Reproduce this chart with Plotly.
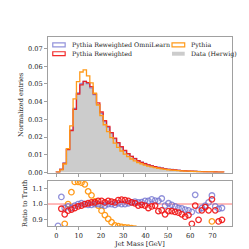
import numpy as np
import plotly.graph_objects as go

# ---------------- data ----------------
bin_edges = [i * 1.5 for i in range(51)]  # 0 .. 75 GeV, 50 bins

data_herwig = [
    0.0003, 0.0018, 0.0055, 0.0135, 0.0245, 0.0365, 0.0450, 0.0500, 0.0515, 0.0505,
    0.0480, 0.0440, 0.0385, 0.0335, 0.0290, 0.0255, 0.0222, 0.0192, 0.0165, 0.0142,
    0.0122, 0.0105, 0.0090, 0.0078, 0.0067, 0.0058, 0.0050, 0.0044, 0.0038, 0.0033,
    0.0029, 0.0025, 0.0022, 0.0019, 0.0017, 0.0015, 0.0013, 0.0011, 0.0010, 0.0009,
    0.0008, 0.0007, 0.0006, 0.0005, 0.00045, 0.0004, 0.00035, 0.0003, 0.00025, 0.0002,
]

ratio_omnilearn = [
    0.862, 1.045, 0.975, 0.985, 0.975, 0.990, 1.000, 1.005, 1.000, 0.995,
    0.995, 1.000, 1.000, 0.995, 0.990, 1.000, 1.000, 0.995, 1.005, 1.000,
    1.000, 1.005, 1.010, 1.015, 1.010, 1.012, 1.020, 1.020, 1.030, 1.022,
    1.020, 1.035, 0.990, 1.005, 0.995, 0.985, 0.975, 0.972, 0.965, 0.960,
    0.950, 1.058, 0.960, 0.975, 0.990, 1.010, 1.054, 0.985, 0.970, 0.975,
]

ratio_reweighted = [
    0.800, 0.970, 0.935, 0.958, 0.965, 0.975, 0.985, 0.990, 1.000, 1.005,
    1.010, 1.010, 1.020, 1.020, 1.010, 1.020, 1.015, 1.010, 1.025, 1.028,
    1.025, 1.020, 1.010, 1.005, 0.990, 0.995, 0.990, 0.975, 0.985, 0.990,
    0.955, 0.960, 0.935, 0.955, 0.955, 0.950, 0.945, 0.935, 0.920, 0.930,
    0.875, 0.990, 0.900, 0.960, 0.980, 0.960, 1.030, 0.960, 0.890, 0.900,
]

ratio_pythia = [
    0.700, 0.800, 0.875, 1.000, 1.075, 1.140, 1.140, 1.135, 1.125, 1.080,
    1.055, 1.017, 0.990, 0.958, 0.930, 0.906, 0.885, 0.865, 0.860, 0.855,
    0.852, 0.850, 0.848, 0.845, 0.840, 0.835, 0.830, 0.830, 0.828, 0.825,
    0.825, 0.822, 0.820, 0.820, 0.818, 0.815, 0.815, 0.812, 0.810, 0.810,
    0.808, 0.805, 0.805, 0.803, 0.802, 0.800, 0.890, 0.800, 0.800, 0.800,
]

x_ticks = [0, 10, 20, 30, 40, 50, 60, 70]
y_ticks_top = [0.00, 0.01, 0.02, 0.03, 0.04, 0.05, 0.06, 0.07]
y_ticks_ratio = [0.9, 1.0, 1.1]

# ---------------- derived ----------------
edges = np.array(bin_edges)
centers = 0.5 * (edges[:-1] + edges[1:])
data = np.array(data_herwig)
h_omni = data * np.array(ratio_omnilearn)
h_rew = data * np.array(ratio_reweighted)
h_py = data * np.array(ratio_pythia)


def step_xy(vals):
    xs = [edges[0]] + list(edges[:-1]) + [edges[-1], edges[-1]]
    ys = [0.0] + list(vals) + [vals[-1], 0.0]
    return xs, ys


FONT = "DejaVu Serif"
C_BLUE = "rgba(110,110,205,0.75)"
C_RED = "rgba(240,20,20,0.9)"
C_ORANGE = "#ff9a1a"
C_GRAY = "#cccccc"

fig = go.Figure()

xs, ys = step_xy(data)
fig.add_trace(go.Scatter(x=xs, y=ys, mode="lines", line=dict(shape="hv", width=0, color=C_GRAY),
                         fill="tozeroy", fillcolor=C_GRAY, showlegend=False, xaxis="x", yaxis="y"))
for vals, col in [(h_omni, C_BLUE), (h_rew, C_RED), (h_py, C_ORANGE)]:
    xs, ys = step_xy(vals)
    fig.add_trace(go.Scatter(x=xs, y=ys, mode="lines", line=dict(shape="hv", width=1.3, color=col),
                             showlegend=False, xaxis="x", yaxis="y"))

for r, col in [(ratio_pythia, C_ORANGE), (ratio_omnilearn, C_BLUE), (ratio_reweighted, C_RED)]:
    fig.add_trace(go.Scatter(x=centers, y=r, mode="markers",
                             marker=dict(symbol="circle-open", size=5.5, color=col, line=dict(width=1.3, color=col)),
                             showlegend=False, xaxis="x2", yaxis="y2"))

axis_common = dict(showline=True, linecolor="#a0a0a0", linewidth=1, mirror=True,
                   ticks="outside", ticklen=3, tickcolor="#a0a0a0", tickwidth=0.8,
                   showgrid=False, zeroline=False,
                   tickfont=dict(family=FONT, size=6.6, color="#222"))

fig.update_layout(
    width=249, height=249,
    margin=dict(l=31, r=25, t=29, b=28),
    paper_bgcolor="white", plot_bgcolor="white",
    showlegend=False,
    xaxis=dict(domain=[0, 1], range=[-3.75, 78.75], anchor="y", tickvals=x_ticks,
               showticklabels=False, **axis_common),
    yaxis=dict(domain=[0.283, 1], range=[0, 0.0765], anchor="x", tickvals=y_ticks_top,
               tickformat=".2f",
               title=dict(text="Normalized entries", font=dict(family=FONT, size=6.6, color="#222"), standoff=3),
               **axis_common),
    xaxis2=dict(domain=[0, 1], range=[-3.75, 78.75], anchor="y2", tickvals=x_ticks,
                title=dict(text="Jet Mass [GeV]", font=dict(family=FONT, size=6.6, color="#222"), standoff=0),
                **axis_common),
    yaxis2=dict(domain=[0, 0.24], range=[0.861, 1.148], anchor="x2", tickvals=y_ticks_ratio,
                tickformat=".1f",
                title=dict(text="Ratio to Truth", font=dict(family=FONT, size=6.6, color="#222"), standoff=3),
                **axis_common),
)

fig.add_shape(type="line", xref="x2 domain", yref="y2", x0=0, x1=1, y0=1, y1=1,
              line=dict(color="rgba(255,80,80,0.8)", width=1), layer="below")

# ---------------- legend (drawn manually) ----------------
legend_items = [
    ("Pythia Reweighted OmniLearn", C_BLUE, None, 0.0259, 0.0933, 0.948, 0.969, 0.119, 0.958),
    ("Pythia Reweighted", C_RED, None, 0.0259, 0.0933, 0.901, 0.922, 0.119, 0.910),
    ("Pythia", C_ORANGE, None, 0.674, 0.743, 0.948, 0.969, 0.767, 0.958),
    ("Data (Herwig)", None, C_GRAY, 0.674, 0.743, 0.901, 0.922, 0.767, 0.910),
]
for label, lc, fc, x0, x1, y0, y1, tx, ty in legend_items:
    if fc is None:
        fig.add_shape(type="rect", xref="paper", yref="paper", x0=x0, x1=x1, y0=y0, y1=y1,
                      line=dict(color=lc, width=1.2), fillcolor="rgba(0,0,0,0)")
    else:
        fig.add_shape(type="rect", xref="paper", yref="paper", x0=x0, x1=x1, y0=y0, y1=y1,
                      line=dict(width=0), fillcolor=fc)
    fig.add_annotation(x=tx, y=ty, xref="paper", yref="paper", text=label, showarrow=False,
                       xanchor="left", yanchor="middle",
                       font=dict(family=FONT, size=6.3, color="#222"))

fig.write_html("out.html")
